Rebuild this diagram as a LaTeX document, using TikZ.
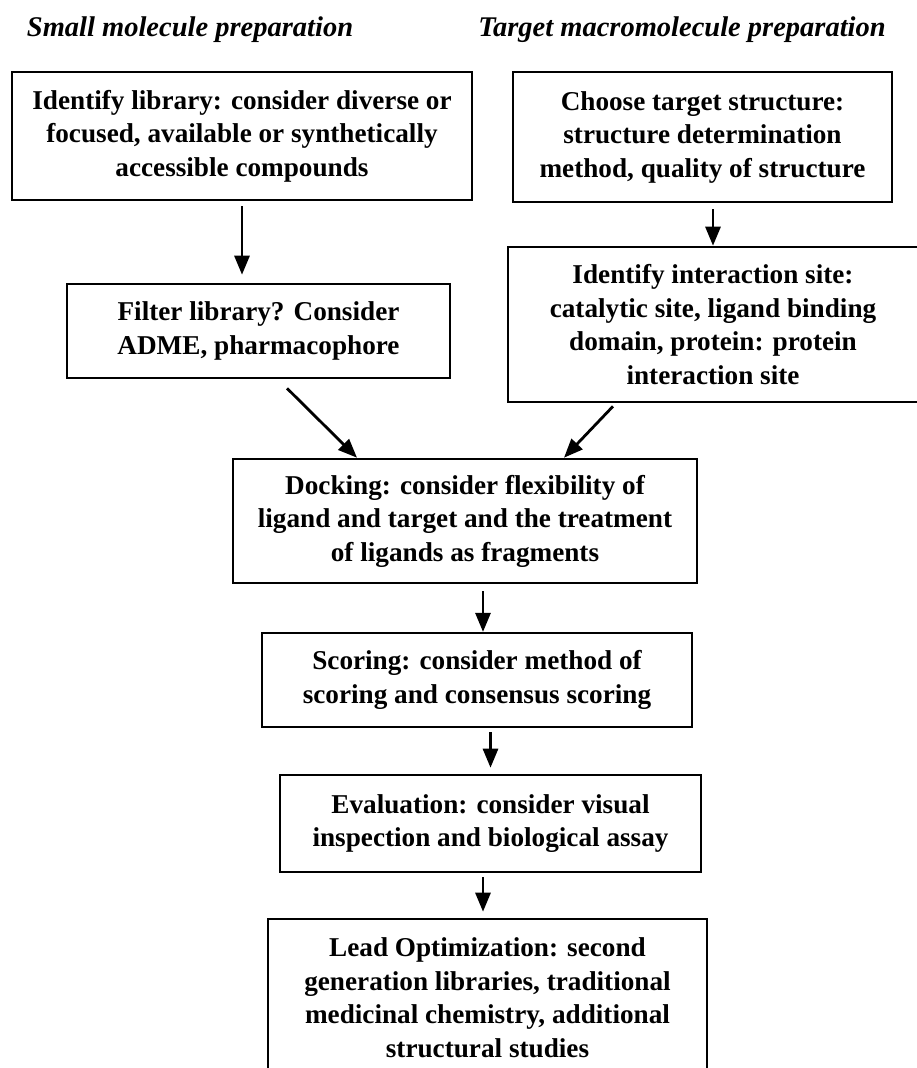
\documentclass[tikz,border=0pt]{standalone}
\usepackage{fontspec}
\setmainfont{Liberation Serif}
\usetikzlibrary{arrows.meta,calc}
\begin{document}
\begin{tikzpicture}[x=1pt,y=-1pt,
  box/.style={draw=black,line width=2.6pt,align=center,inner sep=0pt,
    font=\fontsize{27.2}{33.5}\selectfont\bfseries},
  title/.style={font=\fontsize{28.5}{30}\selectfont\bfseries\itshape,inner sep=0pt},
  arr/.style={line width=2.8pt,-{Triangle[length=19pt,width=15pt]}}]
\useasboundingbox (0,0) rectangle (917,1068);
\clip (0,0) rectangle (917,1068);
\fill[white] (0,0) rectangle (917,1068);
\node[title] (t1) at (190,30) {Small molecule preparation};
\node[title] (t2) at (682,30) {Target macromolecule preparation};
\node[box,minimum width=460pt,minimum height=128pt] (b1) at (242,136)
  {Identify library: consider diverse or\\focused, available or synthetically\\accessible compounds};
\node[box,minimum width=379pt,minimum height=130pt] (b2) at (702.5,137)
  {Choose target structure:\\structure determination\\method, quality of structure};
\node[box,minimum width=383pt,minimum height=94pt] (b3) at (258.5,331)
  {Filter library? Consider\\ADME, pharmacophore};
\node[box,minimum width=410pt,minimum height=155pt] (b4) at (713,324.5)
  {Identify interaction site:\\catalytic site, ligand binding\\domain, protein: protein\\interaction site};
\node[box,minimum width=464pt,minimum height=124pt] (dock) at (465,521)
  {Docking: consider flexibility of\\ligand and target and the treatment\\of ligands as fragments};
\node[box,line width=2.2pt,minimum width=430pt,minimum height=94pt] (score) at (477,680)
  {Scoring: consider method of\\scoring and consensus scoring};
\node[box,minimum width=421pt,minimum height=97pt] (eval) at (490.5,823.5)
  {Evaluation: consider visual\\inspection and biological assay};
\node[box,minimum width=439pt,minimum height=157pt] (lead) at (487.5,997.5)
  {Lead Optimization: second\\generation libraries, traditional\\medicinal chemistry, additional\\structural studies};
\draw[arr] ([yshift=-5pt]b1.south) -- ([yshift=8pt]b1.south |- b3.north);
\draw[arr] ([yshift=-6pt]b4.north |- b2.south) -- (b4.north);
\draw[arr] ($(b3.south)+(28.5,9)$) -- ($(dock.north)+(-108,0)$);
\draw[arr] ($(b4.south)+(-100,3)$) -- ($(dock.north)+(99,0)$);
\draw[arr] ([xshift=18pt,yshift=-7pt]dock.south) -- ([xshift=18pt]dock.south |- score.north);
\draw[arr] ([yshift=-4pt]eval.north |- score.south) -- ([yshift=6pt]eval.north);
\draw[arr] ([xshift=-7.5pt,yshift=-4pt]eval.south) -- ([xshift=-7.5pt,yshift=6pt]eval.south |- lead.north);
\end{tikzpicture}
\end{document}
